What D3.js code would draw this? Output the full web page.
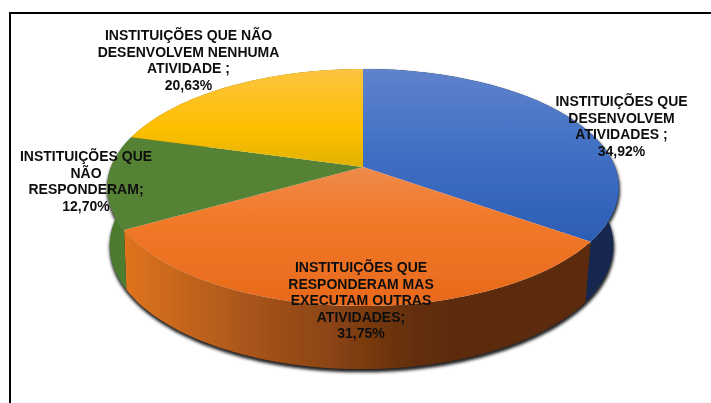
<!DOCTYPE html>
<html>
<head>
<meta charset="utf-8">
<script src="https://cdn.jsdelivr.net/npm/d3@7"></script>
<style>
  html, body { margin: 0; padding: 0; background: #fff; overflow: hidden; }
  text { font-family: "Liberation Sans", Arial, sans-serif; font-weight: bold; font-size: 14px; fill: #111; }
</style>
</head>
<body>
<div id="chart"></div>
<script>
// values
let categories = ["blue", "orange", "green", "yellow"]
let values = [34.92, 31.75, 12.70, 20.63]
let labels = [
  ["INSTITUIÇÕES QUE", "DESENVOLVEM", "ATIVIDADES ;", "34,92%"],
  ["INSTITUIÇÕES QUE", "RESPONDERAM MAS", "EXECUTAM OUTRAS", "ATIVIDADES;", "31,75%"],
  ["INSTITUIÇÕES QUE", "NÃO", "RESPONDERAM;", "12,70%"],
  ["INSTITUIÇÕES QUE NÃO", "DESENVOLVEM NENHUMA", "ATIVIDADE ;", "20,63%"]
]

let w = 711
let h = 403
let svg = d3.select("#chart").append("svg")
  .attr("width", w)
  .attr("height", h)
  .style("display", "block")

let defs = svg.append("defs")

let topStops = {
  blue: [["0%", "#5f83cc"], ["45%", "#4270c4"], ["100%", "#2d5eb6"]],
  orange: [["0%", "#ef8a4c"], ["35%", "#f17a2a"], ["100%", "#e8691b"]],
  green: [["0%", "#548235"], ["100%", "#548235"]],
  yellow: [["0%", "#fdc440"], ["60%", "#fdc000"], ["100%", "#e2b200"]]
}
let wallStops = {
  blue: [["0%", "#132b55"], ["100%", "#122850"]],
  orange: [["0%", "#e0741f"], ["25%", "#ab571b"], ["45%", "#8a4313"], ["60%", "#66300e"], ["72%", "#5c2b0c"], ["100%", "#5c2b0c"]],
  green: [["0%", "#4a7a2e"], ["100%", "#4f7c30"]],
  yellow: [["0%", "#8a6d00"], ["100%", "#8a6d00"]]
}

let addGradient = (id, stops, horizontal) => {
  let g = defs.append("linearGradient")
    .attr("id", id)
    .attr("x1", 0).attr("y1", 0)
    .attr("x2", horizontal ? 1 : 0).attr("y2", horizontal ? 0 : 1)
  stops.forEach(s => g.append("stop").attr("offset", s[0]).attr("stop-color", s[1]))
}
categories.forEach(c => {
  addGradient("top-" + c, topStops[c], false)
  addGradient("wall-" + c, wallStops[c], true)
})

let addBlur = (id, amount) => defs.append("filter").attr("id", id)
  .attr("x", "-10%").attr("y", "-10%").attr("width", "120%").attr("height", "120%")
  .append("feGaussianBlur").attr("stdDeviation", amount)
addBlur("soft", 1.8)
addBlur("scan", 0.35)

// perspective: circle seen from above, the far side squeezed
let k = 0.173
let topRim = { x: 363, y: 167, a: 252, b: 115 }
let bottomRim = { x: 361.5, y: 224, a: 248, b: 120 }

let project = (rim, t) => {
  let u = Math.sin(t)
  let v = Math.cos(t)
  let d = 1 + k * v
  return [rim.x + rim.a * u / d, rim.y - rim.b * v / d]
}

let pie = d3.pie().sort(null).value(d => d)
let slices = pie(values).map((s, i) => ({ ...s, name: categories[i], lines: labels[i] }))

let line = d3.line()
let arcPoints = (rim, s) => d3.range(0, 61).map(i =>
  project(rim, s.startAngle + (s.endAngle - s.startAngle) * i / 60))

let topPath = s => line([[topRim.x, topRim.y], ...arcPoints(topRim, s)]) + "Z"
let wallPath = s => line([...arcPoints(topRim, s), ...arcPoints(bottomRim, s).reverse()]) + "Z"

// shadow under the walls only, the top face casts none
let shadow = svg.append("g")
  .attr("transform", "translate(0.5,2.5)")
  .attr("filter", "url(#soft)")
slices.filter(s => s.name != "yellow").forEach(s => {
  shadow.append("path").attr("d", wallPath(s)).attr("fill", "#222")
    .attr("stroke", "#222").attr("stroke-width", 1.5)
})

let pieGroup = svg.append("g").attr("filter", "url(#scan)")

// side walls, then the top faces over them
pieGroup.append("g").selectAll("path")
  .data(slices)
  .join("path")
  .attr("d", wallPath)
  .attr("fill", d => "url(#wall-" + d.name + ")")

pieGroup.append("g").selectAll("path")
  .data(slices)
  .join("path")
  .attr("d", topPath)
  .attr("fill", d => "url(#top-" + d.name + ")")

// frame: top and left only
svg.append("path")
  .attr("d", d3.line()([[w, 13], [10, 13], [10, h]]))
  .attr("fill", "none")
  .attr("stroke", "#000")
  .attr("stroke-width", 2)

// labels
let labelPlace = { blue: [621.5, 106], orange: [361, 272], green: [86, 161], yellow: [188.5, 40] }
let lineStep = 16.6

let labelGroups = svg.append("g").attr("filter", "url(#scan)").selectAll("text")
  .data(slices)
  .join("text")
  .attr("text-anchor", "middle")
  .attr("transform", d => "translate(" + labelPlace[d.name] + ")")

labelGroups.selectAll("tspan")
  .data(d => d.lines)
  .join("tspan")
  .attr("x", 0)
  .attr("y", (d, i) => i * lineStep)
  .text(d => d)
</script>
</body>
</html>
